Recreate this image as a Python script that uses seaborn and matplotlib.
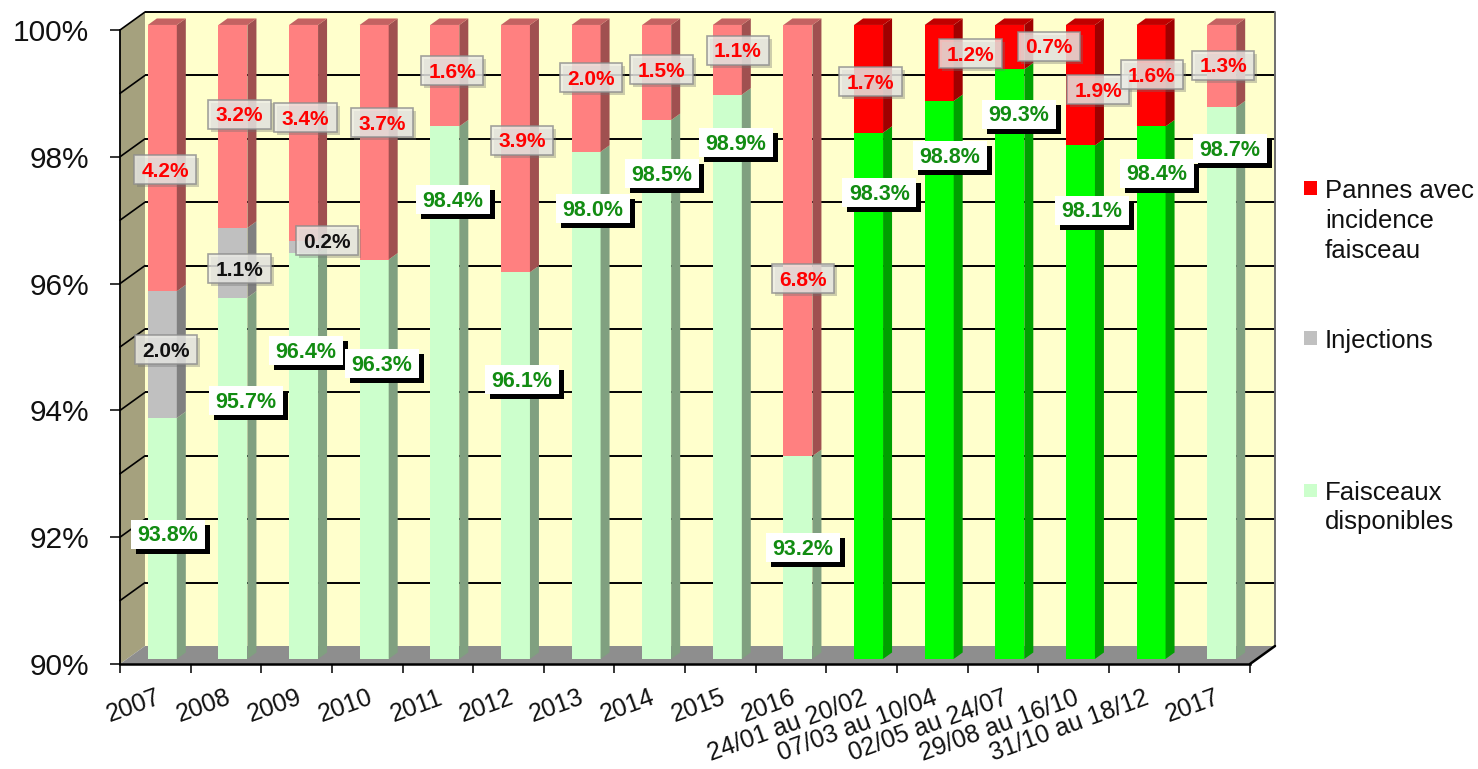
import numpy as np
import matplotlib
matplotlib.use("Agg")
import matplotlib.pyplot as plt
from matplotlib.patches import Polygon, Rectangle
from matplotlib.transforms import Affine2D
import seaborn as sns

# ---------------------------------------------------------------- data
categories = ["2007", "2008", "2009", "2010", "2011", "2012", "2013", "2014",
              "2015", "2016", "24/01 au 20/02", "07/03 au 10/04",
              "02/05 au 24/07", "29/08 au 16/10", "31/10 au 18/12", "2017"]
faisceaux = [93.8, 95.7, 96.4, 96.3, 98.4, 96.1, 98.0, 98.5,
             98.9, 93.2, 98.3, 98.8, 99.3, 98.1, 98.4, 98.7]
injections = [2.0, 1.1, 0.2, 0.0, 0.0, 0.0, 0.0, 0.0,
              0.0, 0.0, 0.0, 0.0, 0.0, 0.0, 0.0, 0.0]
pannes = [4.2, 3.2, 3.4, 3.7, 1.6, 3.9, 2.0, 1.5,
          1.1, 6.8, 1.7, 1.2, 0.7, 1.9, 1.6, 1.3]
# sub-periods of the running year are drawn in bright colours
is_period = [False] * 10 + [True] * 5 + [False]

legend_entries = [("Pannes avec\nincidence\nfaisceau", "#FF0000"),
                  ("Injections", "#C0C0C0"),
                  ("Faisceaux\ndisponibles", "#CCFFCC")]

# data-label anchors: horizontal offset from the category and height in %
green_dx = [0.18, 0.28, 0.13, 0.21, 0.21, 0.19, 0.20, 0.17,
            0.22, 0.17, 0.25, 0.25, 0.23, 0.26, 0.18, 0.22]
green_y = [92.02, 94.13, 94.92, 94.71, 97.30, 94.46, 97.16, 97.71,
           98.20, 91.81, 97.41, 97.99, 98.65, 97.13, 97.72, 98.10]
red_dx = [0.14, 0.19, 0.13, 0.21, 0.20, 0.19, 0.17, 0.17,
          0.25, 0.17, 0.13, 0.54, 0.65, 0.35, 0.11, 0.12]
red_y = [97.77, 98.65, 98.59, 98.51, 99.33, 98.24, 99.22, 99.35,
         99.66, 96.05, 99.16, 99.60, 99.72, 99.03, 99.27, 99.42]
gray_dx = [0.15, 0.19, 0.43]
gray_y = [94.93, 96.21, 96.65]

# ---------------------------------------------------------------- style
sns.set_theme(style="ticks")
plt.rcParams["font.family"] = ["Liberation Sans", "DejaVu Sans"]

W, H = 1478, 769
fig = plt.figure(figsize=(W / 100, H / 100), dpi=100)
fig.patch.set_facecolor("white")
# front plane of the pseudo-3D box, in pixels
L, R, B, T = 120, 1250, 664, 30
ax = fig.add_axes([L / W, 1 - B / H, (R - L) / W, (B - T) / H])
ax.set_facecolor("none")

N = len(categories)
YMIN, YMAX = 90, 100
px_cat = (R - L) / N
px_pct = (B - T) / (YMAX - YMIN)
DX = 25 / px_cat     # full depth of the box, in data units
DY = 18 / px_pct
D0 = 0.28            # depth of the bars' front face
BD = 0.36            # depth of the bars
BAR_W = 29 / px_cat


def deep(x, y, d):
    return (x + d * DX, y + d * DY)


x_lo, x_hi = -0.5, N - 0.5

# walls and floor
ax.add_patch(Polygon([deep(x_lo, YMIN, 1), deep(x_hi, YMIN, 1),
                      deep(x_hi, YMAX, 1), deep(x_lo, YMAX, 1)],
                     fc="#FFFFCC", ec="none", zorder=0.5, clip_on=False))
ax.add_patch(Polygon([(x_lo, YMIN), deep(x_lo, YMIN, 1),
                      deep(x_lo, YMAX, 1), (x_lo, YMAX)],
                     fc="#A5A17E", ec="none", zorder=0.6, clip_on=False))
ax.add_patch(Polygon([(x_lo, YMIN), (x_hi, YMIN),
                      deep(x_hi, YMIN, 1), deep(x_lo, YMIN, 1)],
                     fc="#8E8E8E", ec="none", zorder=0.7, clip_on=False))

# gridlines on back wall and side wall, every 1 %
for v in range(YMIN + 1, YMAX + 1):
    (ax0, ay0), (ax1, ay1) = deep(x_lo, v, 1), deep(x_hi, v, 1)
    ax.plot([ax0, ax1], [ay0, ay1], color="black", lw=1.4, zorder=0.8,
            clip_on=False, solid_capstyle="butt")
    sx, sy = deep(x_lo, v, 1)
    ax.plot([x_lo, sx], [v, sy], color="black", lw=1.2, zorder=0.8,
            clip_on=False)
# right edge of back wall and bottom-right floor edge
ex0, ey0 = deep(x_hi, YMIN, 1)
ex1, ey1 = deep(x_hi, YMAX, 1)
ax.plot([ex0, ex1], [ey0, ey1], color="#6E6E6E", lw=1.4, zorder=0.8, clip_on=False)
ax.plot([x_hi, ex0], [YMIN, ey0], color="black", lw=1.8, zorder=4, clip_on=False)

# ---------------------------------------------------------------- bars
bar_tr = Affine2D().translate(D0 * DX, D0 * DY) + ax.transData
bdx, bdy = BD * DX, BD * DY

fz = np.array(faisceaux)
inj = np.array(injections)
pn = np.array(pannes)

layers = [
    # heights, bottoms, (light face, bright face), (light side, bright side), (light top, bright top)
    (fz - YMIN, np.full(N, YMIN, float), ("#CCFFCC", "#00FF00"), ("#80A080", "#00A000"), ("#A0C8A0", "#00C800")),
    (inj, fz, ("#C0C0C0", "#C0C0C0"), ("#808080", "#808080"), ("#A0A0A0", "#A0A0A0")),
    (pn, fz + inj, ("#FF8080", "#FF0000"), ("#A05050", "#A00000"), ("#C46262", "#C00000")),
]

for k, (heights, bottoms, faces, sides, tops) in enumerate(layers):
    n_before = len(ax.patches)
    sns.barplot(x=categories, y=heights, bottom=bottoms, width=BAR_W,
                errorbar=None, saturation=1, color=faces[0], linewidth=0,
                ax=ax)
    for i, p in enumerate(ax.patches[n_before:]):
        sel = 1 if is_period[i] else 0
        p.set_facecolor(faces[sel])
        p.set_edgecolor("none")
        p.set_transform(bar_tr)
        p.set_clip_on(False)
        p.set_zorder(3)
        h = p.get_height()
        if h <= 0:
            continue
        x0, w, y0 = p.get_x(), p.get_width(), p.get_y()
        ax.add_patch(Polygon([(x0 + w, y0), (x0 + w + bdx, y0 + bdy),
                              (x0 + w + bdx, y0 + h + bdy), (x0 + w, y0 + h)],
                             transform=bar_tr, fc=sides[sel], ec="none",
                             zorder=3, clip_on=False))
        if k == len(layers) - 1:
            top = y0 + h
            ax.add_patch(Polygon([(x0, top), (x0 + w, top),
                                  (x0 + w + bdx, top + bdy), (x0 + bdx, top + bdy)],
                                 transform=bar_tr, fc=tops[sel], ec="none",
                                 zorder=3, clip_on=False))

# ---------------------------------------------------------------- axes
ax.set_xlim(x_lo, x_hi)
ax.set_ylim(YMIN, YMAX)
ax.set_xlabel("")
ax.set_ylabel("")
ax.grid(False)
for s in ("top", "right"):
    ax.spines[s].set_visible(False)
ax.spines["left"].set_color("black")
ax.spines["left"].set_linewidth(1.3)
ax.spines["bottom"].set_color("black")
ax.spines["bottom"].set_linewidth(1.8)
ax.spines["left"].set_zorder(4)
ax.spines["bottom"].set_zorder(4)

yt = np.arange(YMIN, YMAX + 1, 2)
ax.set_yticks(yt)
ax.set_yticklabels([f"{v}%" for v in yt])
ax.tick_params(axis="y", length=7.2, width=1.1, color="black", pad=15,
               labelsize=21.5, labelcolor="#111111", left=True, direction="out")

ax.set_xticks(np.arange(N))
ax.set_xticklabels(categories)
ax.set_xticks(np.arange(N + 1) - 0.5, minor=True)
ax.tick_params(axis="x", which="major", length=0, pad=15.5, labelsize=18,
               labelcolor="#111111")
ax.tick_params(axis="x", which="minor", length=6.5, width=1.1, color="black",
               bottom=True, direction="out")
for lab in ax.get_xticklabels():
    lab.set_rotation(20)
    lab.set_ha("right")
    lab.set_va("top")
    lab.set_rotation_mode("anchor")

# ---------------------------------------------------------------- labels
green_texts, red_texts, gray_texts = [], [], []
for i, v in enumerate(faisceaux):
    green_texts.append(ax.text(i + green_dx[i], green_y[i], f"{v:.1f}%",
                               ha="center", va="center", fontsize=15.5,
                               fontweight="bold", color="#128C12", zorder=12))
for i, v in enumerate(pannes):
    red_texts.append(ax.text(i + red_dx[i], red_y[i], f"{v:.1f}%",
                             ha="center", va="center", fontsize=15,
                             fontweight="bold", color="#FF0000", zorder=12))
for i, v in enumerate(injections[:len(gray_dx)]):
    gray_texts.append(ax.text(i + gray_dx[i], gray_y[i], f"{v:.1f}%",
                              ha="center", va="center", fontsize=15,
                              fontweight="bold", color="#111111", zorder=12))

fig.canvas.draw()
renderer = fig.canvas.get_renderer()
inv = ax.transData.inverted()


def box_behind(t, padx, pady, lift, face, edge, alpha, shadow, shadow_alpha, soff):
    bb = t.get_window_extent(renderer)
    x0, y0 = bb.x0 - padx, bb.y0 - pady + lift
    x1, y1 = bb.x1 + padx, bb.y1 + pady + lift
    if shadow is not None:
        (a0, b0), (a1, b1) = inv.transform([(x0 + soff, y0 - soff),
                                            (x1 + soff, y1 - soff)])
        ax.add_patch(Rectangle((a0, b0), a1 - a0, b1 - b0, fc=shadow,
                               ec="none", alpha=shadow_alpha, zorder=10,
                               clip_on=False))
    (a0, b0), (a1, b1) = inv.transform([(x0, y0), (x1, y1)])
    ax.add_patch(Rectangle((a0, b0), a1 - a0, b1 - b0, fc=face,
                           ec=edge, lw=1.2, alpha=alpha, zorder=11,
                           clip_on=False))


for t in green_texts:
    box_behind(t, 6.5, 4.0, 1.5, "white", "none", 1.0, "black", 1.0, 5)
for t in red_texts + gray_texts:
    box_behind(t, 7.5, 5.0, 1.5, "#ECECE8", "#8C8C8C", 0.8, "#707070", 0.35, 3)

# ---------------------------------------------------------------- legend
legend_top = [188, 338, 490]   # vertical centre of first line, pixels
for (label, col), yc in zip(legend_entries, legend_top):
    fig.add_artist(Rectangle((1304 / W, 1 - (yc + 6.5) / H), 13 / W, 13 / H,
                             transform=fig.transFigure, fc=col, ec="none"))
    for j, line in enumerate(label.split("\n")):
        fig.text(1325 / W, 1 - (yc + 9.5 + 30 * j) / H, line, ha="left",
                 va="baseline", fontsize=18.5, color="#111111")

fig.savefig("out.png", dpi=100, facecolor="white")
